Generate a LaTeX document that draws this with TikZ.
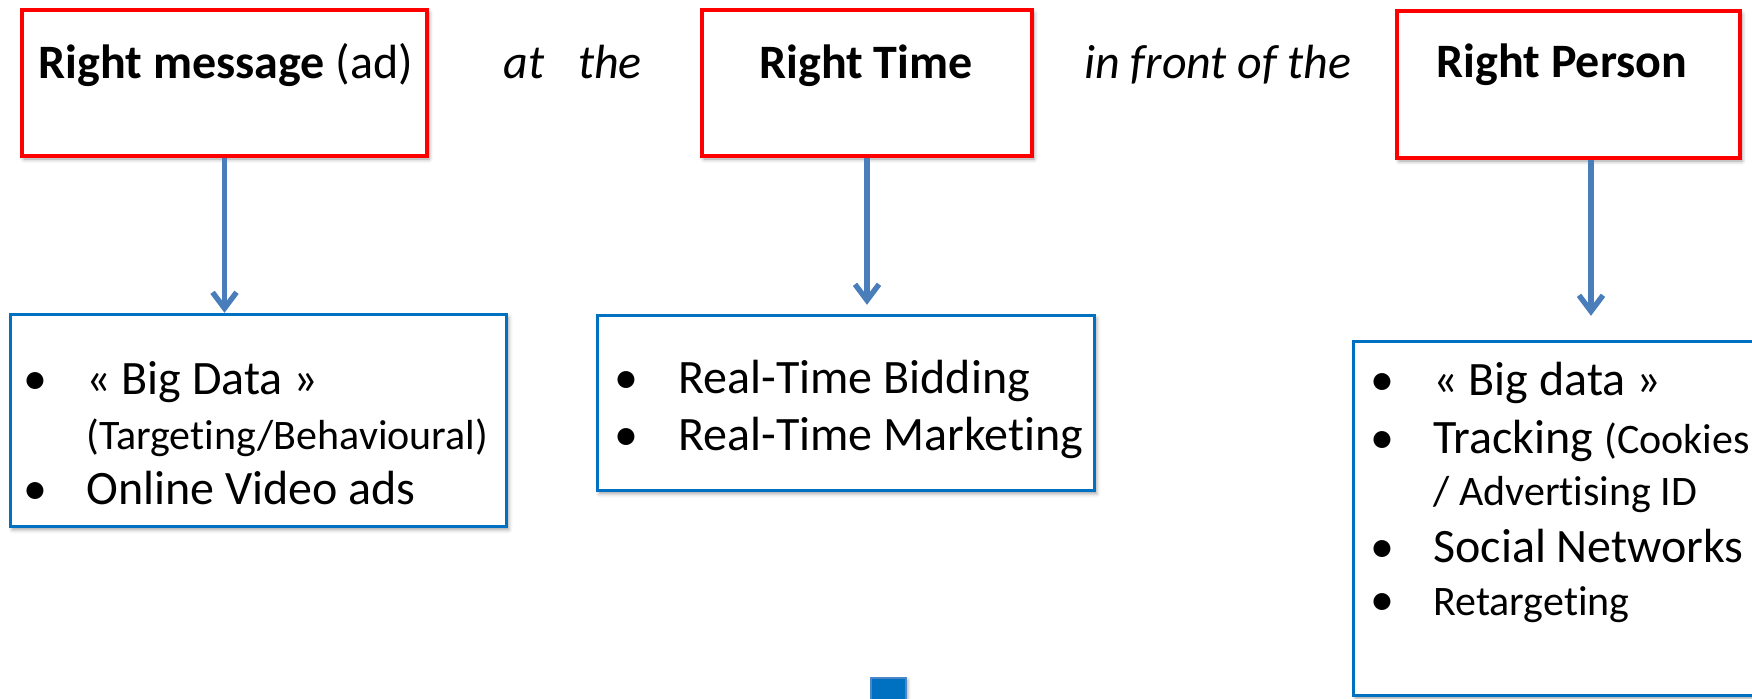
\documentclass[tikz,border=0pt]{standalone}
\usepackage{fontspec}
\setmainfont{Carlito}[Ligatures={NoCommon}]
\usetikzlibrary{arrows.meta,shadows.blur}
\definecolor{redline}{HTML}{FF0000}
\definecolor{blueline}{HTML}{0070C0}
\definecolor{arrowblue}{HTML}{4A7EBB}
\definecolor{sqedge}{HTML}{4A86C8}
\newcommand{\bigsz}{\fontsize{24}{28}\selectfont}
\newcommand{\smallsz}{\fontsize{21}{24}\selectfont}
\begin{document}
\begin{tikzpicture}[x=0.5pt,y=-0.5pt,
  redbox/.style={draw=redline, line width=2.4pt, fill=white, inner sep=0pt,
    blur shadow={shadow xshift=1pt, shadow yshift=-1.5pt, shadow blur radius=2pt, shadow opacity=40}},
  bluebox/.style={draw=blueline, line width=1.7pt, fill=white, inner sep=0pt,
    blur shadow={shadow xshift=1pt, shadow yshift=-1.5pt, shadow blur radius=2pt, shadow opacity=40}},
  head/.style={font=\bigsz\bfseries, anchor=base, inner sep=0pt},
  link/.style={font=\bigsz\itshape, anchor=base west, inner sep=0pt},
  bul/.style={font=\bigsz, anchor=base west, inner sep=0pt},
  itemtxt/.style={font=\bigsz, anchor=base west, inner sep=0pt},
  smalltxt/.style={font=\smallsz, anchor=base west, inner sep=0pt},
  conn/.style={draw=arrowblue, line width=2.7pt, -{Straight Barb[length=8pt,width=12pt]}}
]
\useasboundingbox (0,0) rectangle (1752,698);
\clip (0,0) rectangle (1752,698);

% top red boxes
\node[redbox, minimum width=202.5pt, minimum height=73pt] (r1) at (224.5,83) {};
\node[redbox, minimum width=165pt, minimum height=73pt] (r2) at (867,83) {};
\node[redbox, minimum width=171.5pt, minimum height=73.5pt] (r3) at (1568.5,84.5) {};

\node[head] (h1) at (226,78) {Right message \mdseries(ad)};
\node[head] (h2) at (866,78) {Right Time};
\node[head] (h3) at (1562,77) {Right Person};

\node[link] (l1) at (503,78) {at\hspace{17pt}the};
\node[link] (l2) at (1084,78) {in front of the};

% blue boxes
\node[bluebox, minimum width=248pt, minimum height=106pt] (b1) at (258.5,420.5) {};
\node[bluebox, minimum width=248.5pt, minimum height=87.5pt] (b2) at (846,403) {};
\node[bluebox, minimum width=223pt, minimum height=177pt] (b3) at (1576.75,518.5) {};

% small square
\node[draw=sqedge, fill=blueline, line width=1pt, minimum width=17.5pt, minimum height=20pt, inner sep=0pt,
  blur shadow={shadow xshift=1pt, shadow yshift=-1pt, shadow blur radius=1.5pt, shadow opacity=30}] (sq) at (888.5,698) {};

% arrows
\draw[conn] (r1.south) -- (r1.south |- b1.north);
\draw[conn, shorten >=4.5pt] (r2.south) -- (r2.south |- b2.north);
\draw[conn, shorten >=12pt] ([xshift=11.25pt]r3.south) -- ([xshift=11.25pt]r3.south |- b3.north);

% box 1 list
\node[bul] (b1a) at (23,394) {•};
\node[itemtxt] (t1a) at (86,394) {« Big Data »};
\node[smalltxt] (t1b) at (86,449) {(Targeting/Behavioural)};
\node[bul] (b1c) at (23,504) {•};
\node[itemtxt] (t1c) at (86,504) {Online Video ads};

% box 2 list
\node[bul] (b2a) at (614,393) {•};
\node[itemtxt] (t2a) at (678,393) {Real-Time Bidding};
\node[bul] (b2b) at (614,450) {•};
\node[itemtxt] (t2b) at (678,450) {Real-Time Marketing};

% box 3 list
\node[bul] (b3a) at (1370,395) {•};
\node[itemtxt] (t3a) at (1433,395) {« Big data »};
\node[bul] (b3b) at (1370,453) {•};
\node[itemtxt] (t3b) at (1433,453) {Tracking {\smallsz(Cookies}};
\node[smalltxt] (t3c) at (1433,505) {/ Advertising ID};
\node[bul] (b3d) at (1370,562) {•};
\node[itemtxt] (t3d) at (1433,562) {Social Networks};
\node[bul] (b3e) at (1370,615) {•};
\node[smalltxt] (t3e) at (1433,615) {Retargeting};
\end{tikzpicture}
\end{document}
